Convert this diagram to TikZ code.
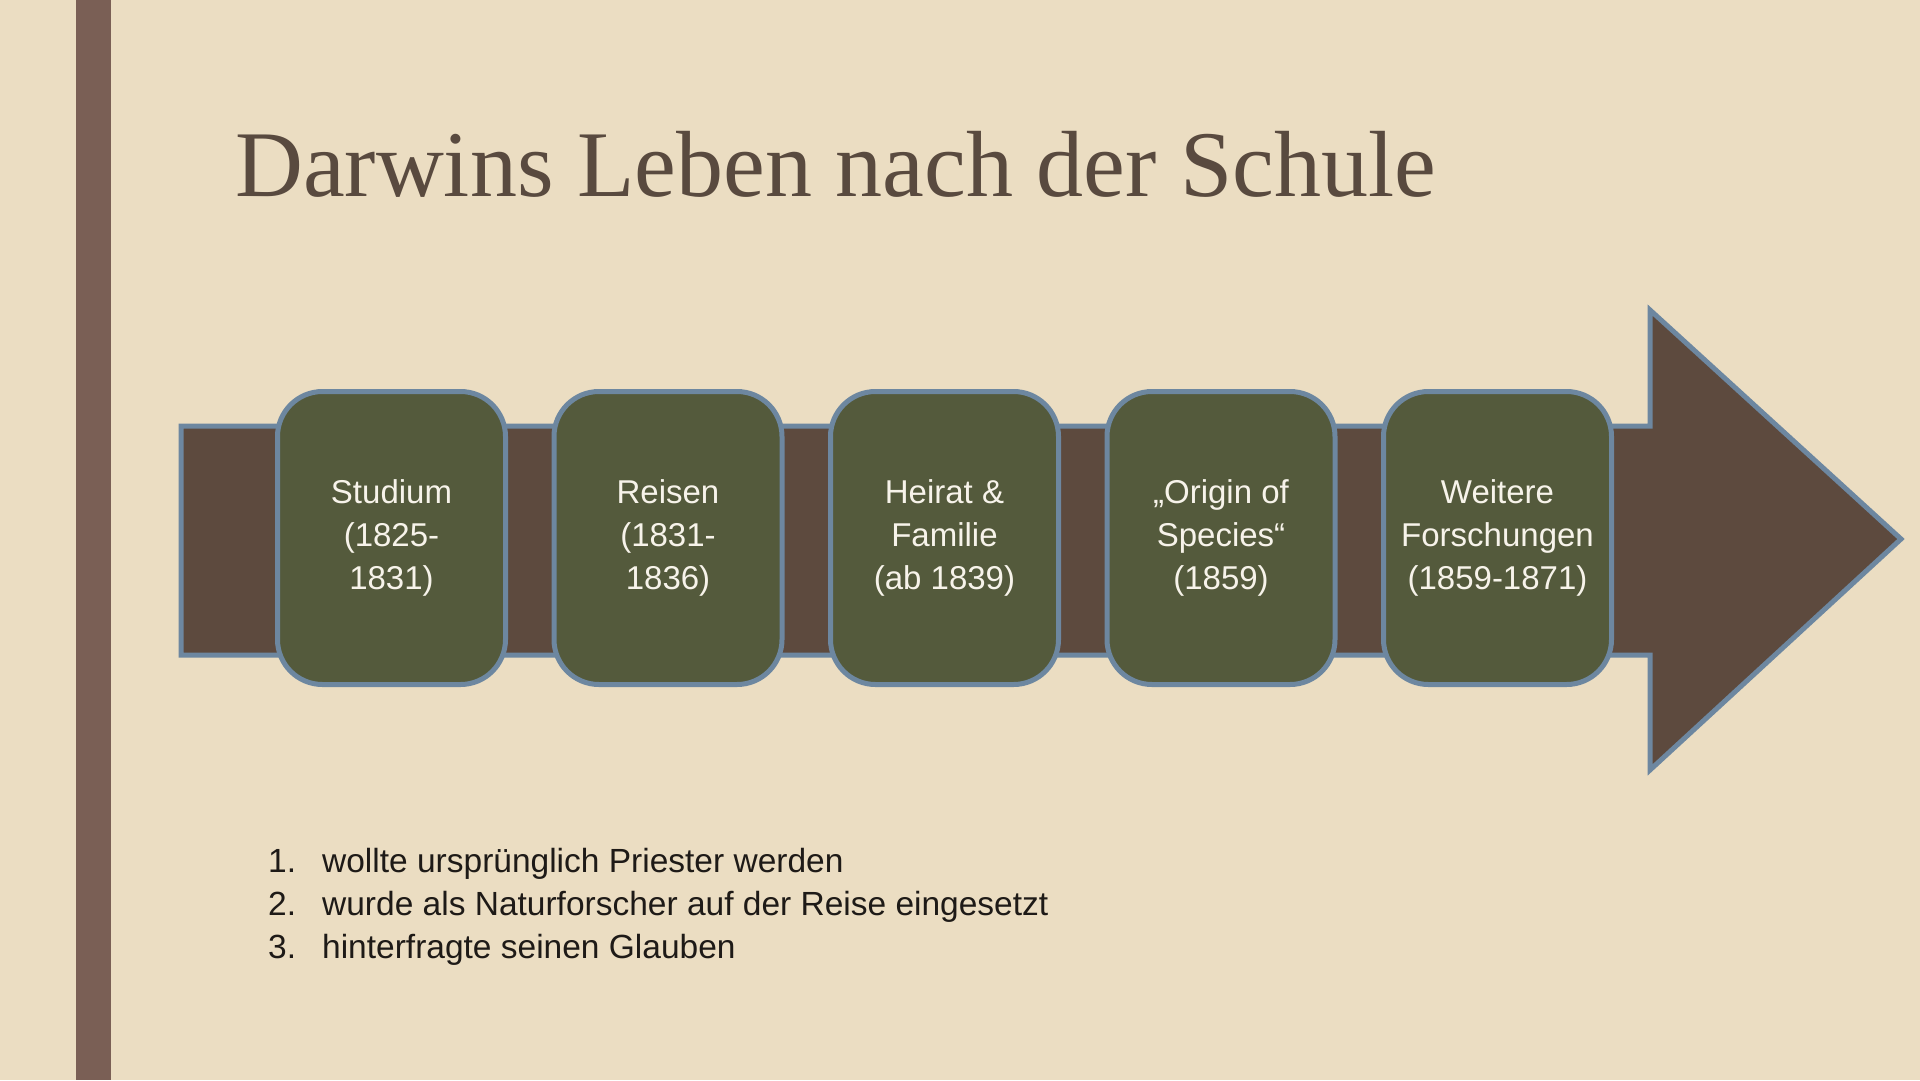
\documentclass[tikz,border=0pt]{standalone}
\usepackage{fontspec}
\usetikzlibrary{positioning}
\newfontfamily\titlefont{Liberation Serif}
\newfontfamily\bodyfont{Liberation Sans}
\definecolor{paper}{HTML}{EBDDC2}
\definecolor{sidebar}{HTML}{7A5F55}
\definecolor{titlebrown}{HTML}{594A3F}
\definecolor{bandbrown}{HTML}{5D4A3E}
\definecolor{olive}{HTML}{545A3C}
\definecolor{edgeblue}{HTML}{6D87A0}
\definecolor{boxtext}{HTML}{F7F3EA}
\definecolor{listtext}{HTML}{1E1A17}
\begin{document}
\begin{tikzpicture}[
    x=1pt,
    y=-1pt,
    node distance=276.5pt,
    stage/.style={
        draw=edgeblue,
        line width=5pt,
        fill=olive,
        rounded corners=45pt,
        minimum width=228pt,
        minimum height=293pt,
        text=boxtext,
        align=center,
        font=\bodyfont\fontsize{33}{43}\selectfont
    },
    item/.style={
        anchor=base west,
        inner sep=0pt,
        text=listtext,
        font=\bodyfont\fontsize{33.5}{43}\selectfont
    }
]
\fill[paper] (0,0) rectangle (1920,1080);
\useasboundingbox (0,0) rectangle (1920,1080);
\fill[sidebar] (76,0) rectangle (111,1080);
\node[anchor=base west, inner sep=0pt, text=titlebrown,
  font=\titlefont\fontsize{94}{100}\selectfont] (title) at (235,196)
  {Darwins Leben nach der Schule};
% the band with the arrow head
\draw[edgeblue, line width=5pt, fill=bandbrown, line join=miter]
  (181,426) -- (1650,426) -- (1650,310) -- (1901,539)
  -- (1650,770) -- (1650,655) -- (181,655) -- cycle;
\node[stage] (studium) at (391.5,538) {Studium\\(1825-\\1831)};
\node[stage, right of=studium] (reisen) {Reisen\\(1831-\\1836)};
\node[stage, right of=reisen] (heirat) {Heirat \&\\Familie\\(ab 1839)};
\node[stage, right of=heirat] (origin) {„Origin of\\Species“\\(1859)};
\node[stage, right of=origin] (weitere) {Weitere\\Forschungen\\(1859-1871)};
% list
\node[item] (item1) at (268,872) {\makebox[54pt][l]{1.}wollte ursprünglich Priester werden};
\node[item] (item2) at (268,915) {\makebox[54pt][l]{2.}wurde als Naturforscher auf der Reise eingesetzt};
\node[item] (item3) at (268,958) {\makebox[54pt][l]{3.}hinterfragte seinen Glauben};
\end{tikzpicture}
\end{document}
